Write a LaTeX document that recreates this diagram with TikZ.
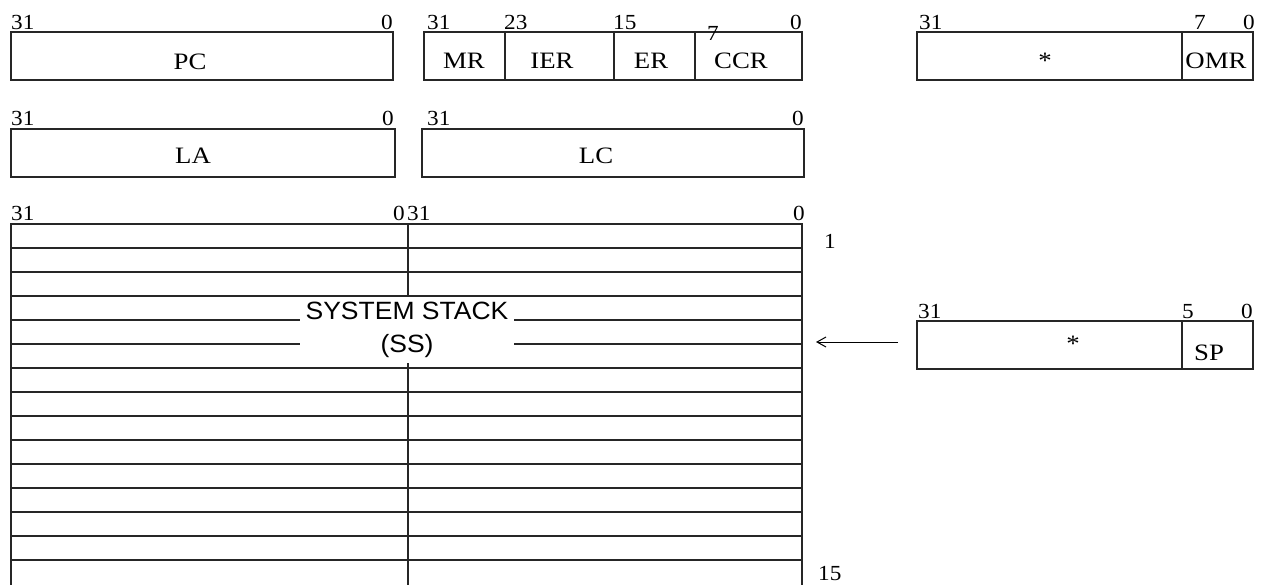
\documentclass[tikz,border=0pt]{standalone}
\usepackage{fontspec}
\setmainfont[FakeStretch=1.08]{Liberation Serif}
\newfontfamily\wideserif[FakeStretch=1.14]{Liberation Serif}
\newfontfamily\sansf[FakeStretch=1.06]{Liberation Sans}
\usetikzlibrary{arrows.meta}
\begin{document}
\begin{tikzpicture}[x=1pt,y=-1pt,
  bit/.style={font=\fontsize{21.5}{26}\selectfont, inner sep=0pt},
  lbl/.style={font=\wideserif\fontsize{23.5}{28}\selectfont, inner sep=0pt, anchor=base},
  reg/.style={draw=black!85, line width=1.2pt}]
\useasboundingbox (0,0) rectangle (1264,584);

% PC
\draw[reg] (11,32) rectangle (393,80);
\node[bit,anchor=base west] (pcA) at (11,29) {31};
\node[bit,anchor=base east] (pcB) at (393,29) {0};
\node[lbl] (pc) at (190,69) {PC};

% MR IER ER CCR
\draw[reg] (424,32) rectangle (802,80);
\draw[reg] (505,32) -- (505,80);
\draw[reg] (614,32) -- (614,80);
\draw[reg] (695,32) -- (695,80);
\node[bit,anchor=base west] (srA) at (427,29) {31};
\node[bit,anchor=base west] (srB) at (504,29) {23};
\node[bit,anchor=base west] (srC) at (613,29) {15};
\node[bit,anchor=base west] (srD) at (707,40) {7};
\node[bit,anchor=base east] (srE) at (802,29) {0};
\node[lbl] (mr) at (464,68) {MR};
\node[lbl] (ier) at (552,68) {IER};
\node[lbl] (er) at (651,68) {ER};
\node[lbl] (ccr) at (741,68) {CCR};

% OMR
\draw[reg] (917,32) rectangle (1253,80);
\draw[reg] (1182,32) -- (1182,80);
\node[bit,anchor=base west] (omA) at (919,29) {31};
\node[bit,anchor=base west] (omB) at (1194,29) {7};
\node[bit,anchor=base east] (omC) at (1255,29) {0};
\node[lbl] (omstar) at (1045,68) {*};
\node[lbl] (omr) at (1216,68) {OMR};

% LA
\draw[reg] (11,129) rectangle (395,177);
\node[bit,anchor=base west] (laA) at (11,125) {31};
\node[bit,anchor=base east] (laB) at (394,125) {0};
\node[lbl] (la) at (193,163) {LA};

% LC
\draw[reg] (422,129) rectangle (804,177);
\node[bit,anchor=base west] (lcA) at (427,125) {31};
\node[bit,anchor=base east] (lcB) at (804,125) {0};
\node[lbl] (lc) at (596,163) {LC};

% System stack
\node[bit,anchor=base west] (ssA) at (11,220) {31};
\node[bit,anchor=base east] (ssB) at (405,220) {0};
\node[bit,anchor=base west] (ssC) at (407,220) {31};
\node[bit,anchor=base east] (ssD) at (805,220) {0};
\draw[reg] (11,586) -- (11,224) -- (802,224) -- (802,586);
\foreach \k in {0,...,13} \draw[reg] (11,{248+24*\k}) -- (802,{248+24*\k});
\draw[reg] (408,224) -- (408,586);
\node[fill=white, minimum width=214pt, minimum height=66pt, inner sep=0pt, align=center,
      font=\sansf\fontsize{25}{33.5}\selectfont] (ss) at (407,330) {SYSTEM STACK\\(SS)};
\node[bit,anchor=base west] (one) at (824,248) {1};
\node[bit,anchor=base west] (fifteen) at (818,580) {15};

% SP
\draw[reg] (917,321) rectangle (1253,369);
\draw[reg] (1182,321) -- (1182,369);
\node[bit,anchor=base west] (spA) at (918,318) {31};
\node[bit,anchor=base west] (spB) at (1182,318) {5};
\node[bit,anchor=base east] (spC) at (1253,318) {0};
\node[lbl] (spstar) at (1073,351) {*};
\node[lbl] (sp) at (1209,360) {SP};

% arrow
\coordinate (arrS) at (898,342);
\coordinate (arrE) at (816,342);
\draw[-{Straight Barb[length=9pt,width=10pt]}, line width=1pt] (arrS) -- (arrE);
\end{tikzpicture}
\end{document}
